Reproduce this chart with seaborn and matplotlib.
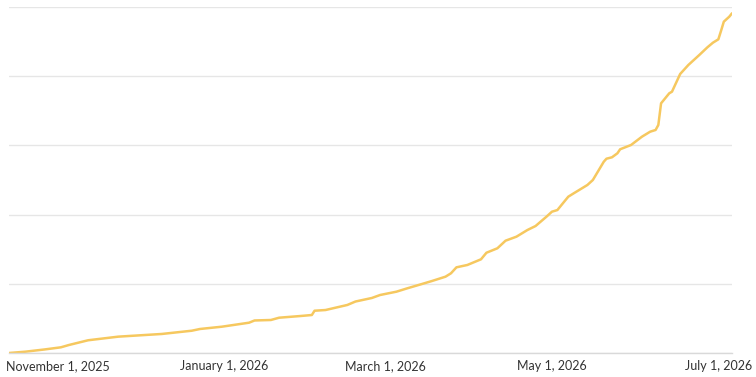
import matplotlib
matplotlib.use("Agg")
import matplotlib.pyplot as plt
import seaborn as sns
import pandas as pd

dates = [
    "2025-10-14", "2025-10-20", "2025-10-27", "2025-11-02", "2025-11-05", "2025-11-12",
    "2025-11-23", "2025-12-09", "2025-12-20", "2025-12-23", "2025-12-31", "2026-01-10",
    "2026-01-12", "2026-01-18", "2026-01-21", "2026-01-29", "2026-02-02", "2026-02-03",
    "2026-02-07", "2026-02-15", "2026-02-18", "2026-02-24", "2026-02-27", "2026-03-05",
    "2026-03-09", "2026-03-14", "2026-03-18", "2026-03-23", "2026-03-25", "2026-03-27",
    "2026-03-31", "2026-04-05", "2026-04-07", "2026-04-11", "2026-04-14", "2026-04-18",
    "2026-04-22", "2026-04-25", "2026-04-29", "2026-05-01", "2026-05-03", "2026-05-05",
    "2026-05-07", "2026-05-09", "2026-05-12", "2026-05-14", "2026-05-16", "2026-05-20",
    "2026-05-21", "2026-05-23", "2026-05-25", "2026-05-26", "2026-05-30", "2026-06-03",
    "2026-06-06", "2026-06-08", "2026-06-09", "2026-06-10", "2026-06-13", "2026-06-14",
    "2026-06-17", "2026-06-20", "2026-06-22", "2026-06-24", "2026-06-27", "2026-06-29",
    "2026-07-01", "2026-07-02", "2026-07-03", "2026-07-05", "2026-07-06",
]
values = [
    0.0, 1.9, 5.1, 8.2, 11.6, 18.4,
    23.6, 27.5, 32.2, 34.7, 38.0, 43.8,
    47.0, 47.7, 51.0, 53.5, 54.9, 61.1,
    62.1, 69.4, 74.4, 79.5, 83.8, 88.6,
    93.5, 99.3, 104.0, 110.3, 115.2, 123.8,
    127.2, 135.4, 144.9, 151.3, 162.3, 168.1,
    177.7, 183.5, 197.0, 204.2, 206.6, 216.3,
    225.9, 230.8, 238.0, 242.8, 250.0, 276.4,
    280.8, 282.8, 288.6, 294.4, 300.6, 312.6,
    319.8, 322.3, 329.5, 360.8, 375.3, 377.6,
    403.2, 416.2, 423.4, 430.6, 441.8, 448.4,
    453.3, 465.8, 478.8, 486.0, 490.9,
]
tick_dates = ["2025-11-01", "2026-01-01", "2026-03-01", "2026-05-01", "2026-07-01"]
tick_labels = ["November 1, 2025", "January 1, 2026", "March 1, 2026", "May 1, 2026", "July 1, 2026"]
y_grid = [0, 100, 200, 300, 400, 500]

df = pd.DataFrame({"date": pd.to_datetime(dates), "value": values})

sns.set_theme(style="white")
plt.rcParams["font.family"] = ["Lato", "DejaVu Sans"]

fig = plt.figure(figsize=(7.56, 3.77), dpi=100)
ax = fig.add_axes([9 / 756, 24 / 377, 723 / 756, 346 / 377])

sns.lineplot(data=df, x="date", y="value", ax=ax, color="#f6c85f", linewidth=1.8)

ax.set_xlim(df["date"].min(), df["date"].max())
ax.set_ylim(0, 500)
ax.set_yticks(y_grid)
ax.set_yticklabels([])
ax.tick_params(axis="y", length=0)
ax.grid(axis="y", color="#e6e6e6", linewidth=1)
ax.grid(axis="x", visible=False)
ax.set_axisbelow(True)

ax.set_xticks(pd.to_datetime(tick_dates))
ax.set_xticklabels(tick_labels)
ax.tick_params(axis="x", length=0, pad=5, labelsize=9, labelcolor="#333333")

for s in ["top", "left", "right"]:
    ax.spines[s].set_visible(False)
ax.spines["bottom"].set_color("#d9d9d9")
ax.spines["bottom"].set_linewidth(1)

ax.set_xlabel("")
ax.set_ylabel("")

fig.savefig("out.png", dpi=100)
